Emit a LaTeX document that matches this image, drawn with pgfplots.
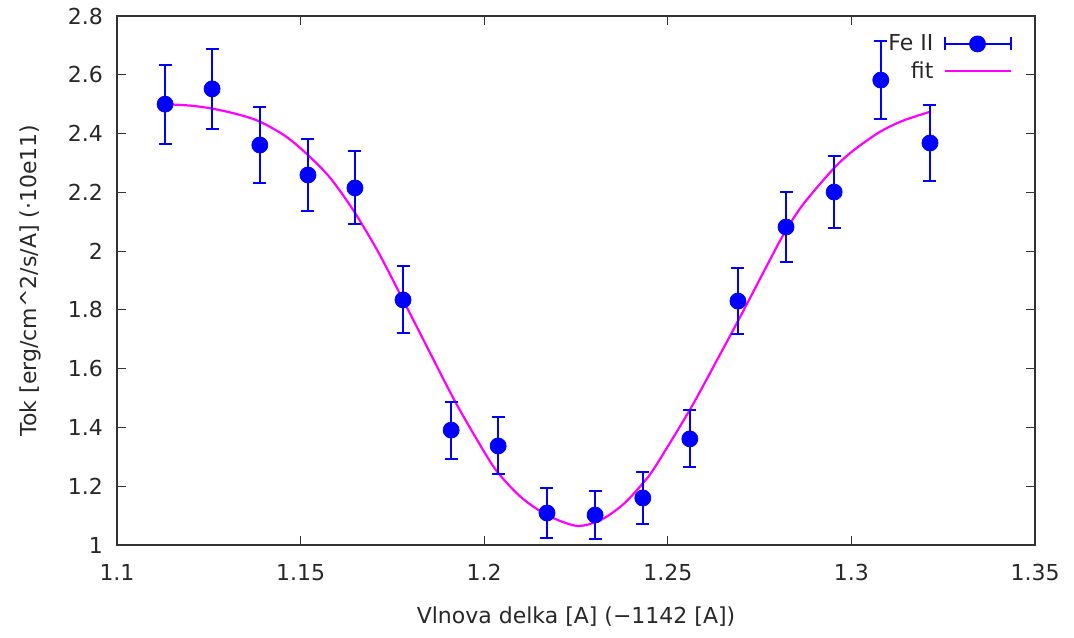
\documentclass[border=0pt]{standalone}
\usepackage{fontspec}
\setmainfont{DejaVu Sans}
\usepackage{pgfplots}
\pgfplotsset{compat=1.18}

\definecolor{gblue}{RGB}{0,0,255}
\definecolor{gmag}{RGB}{255,0,255}
\definecolor{gtxt}{RGB}{40,40,40}

\begin{document}
\begin{tikzpicture}
\begin{axis}[
    scale only axis,
    width=459pt, height=264.5pt,
    xmin=1.1, xmax=1.35,
    ymin=1, ymax=2.8,
    xtick={1.1,1.15,...,1.36},
    ytick={1,1.2,...,2.81},
    xticklabels={1.1,1.15,1.2,1.25,1.3,1.35},
    yticklabels={1,1.2,1.4,1.6,1.8,2,2.2,2.4,2.6,2.8},
    tick align=inside,
    major tick length=4.5pt,
    axis line style={line width=0.6pt, black!80},
    every tick/.style={line width=0.6pt, black!80},
    font=\fontsize{11}{13}\selectfont,
    tick label style={text=gtxt},
    xticklabel style={yshift=-6pt},
    yticklabel style={xshift=-3.5pt},
    label style={text=gtxt},
    /pgf/number format/assume math mode=true,
    xlabel={Vlnova delka [A] (−1142 [A])},
    ylabel={Tok [erg/cm\^{}2/s/A] (·10e11)},
    xlabel style={yshift=-6pt},
    ylabel style={yshift=6.5pt},
    legend style={draw=none, fill=none, at={(1,1)}, anchor=north east,
        xshift=-8.5pt, yshift=-5pt, legend plot pos=right,
        row sep=0pt, column sep=3pt, text=gtxt},
    legend cell align=right,
]
\addplot[gmag, line width=1.1pt, smooth, forget plot] coordinates {
    (1.1131,2.500) (1.1200,2.495) (1.1259,2.485) (1.1330,2.465)
    (1.1390,2.440) (1.1460,2.390) (1.1520,2.327) (1.1580,2.250)
    (1.1643,2.140) (1.1710,2.000) (1.1779,1.834) (1.1850,1.660)
    (1.1920,1.490) (1.1989,1.340) (1.2035,1.250) (1.2100,1.163)
    (1.2171,1.102) (1.2253,1.065) (1.2320,1.087) (1.2380,1.140)
    (1.2432,1.210) (1.2465,1.265) (1.2560,1.460) (1.2630,1.620)
    (1.2697,1.776) (1.2778,1.970) (1.2819,2.065) (1.2869,2.160)
    (1.2951,2.280) (1.3005,2.342) (1.3078,2.406) (1.3141,2.444)
    (1.3214,2.474)
};
\addplot[gblue, only marks, mark=*, mark size=4pt, forget plot,
    error bars/.cd, y dir=both, y explicit, error mark=|,
    error bar style={line width=1pt, gblue},
    error mark options={mark size=3.25pt, line width=1pt, gblue}]
    table[x=x, y=y, y error=e] {
    x      y      e
    1.1131 2.500 0.134
    1.1259 2.552 0.136
    1.1389 2.361 0.129
    1.1520 2.259 0.124
    1.1648 2.215 0.124
    1.1779 1.834 0.114
    1.1910 1.391 0.097
    1.2038 1.337 0.097
    1.2171 1.109 0.085
    1.2302 1.102 0.083
    1.2432 1.160 0.090
    1.2560 1.361 0.097
    1.2691 1.830 0.112
    1.2822 2.082 0.119
    1.2953 2.201 0.124
    1.3080 2.582 0.133
    1.3214 2.368 0.129
};
\addlegendimage{legend image code/.code={
    \draw[gblue, line width=1pt] (0pt,0pt) -- (33pt,0pt);
    \draw[gblue, line width=1pt] (0pt,-3.25pt) -- (0pt,3.25pt);
    \draw[gblue, line width=1pt] (33pt,-3.25pt) -- (33pt,3.25pt);
    \fill[gblue] (16.5pt,0pt) circle (4pt);}}
\addlegendentry{Fe II}
\addlegendimage{legend image code/.code={
    \draw[gmag, line width=1.1pt] (0pt,0pt) -- (33pt,0pt);}}
\addlegendentry{fit}
\coordinate (bl) at (rel axis cs:0,0);
\coordinate (tr) at (rel axis cs:1,1);
\end{axis}
\path ([shift={(-58.5pt,-46pt)}]bl) rectangle ([shift={(19.5pt,8pt)}]tr);
\end{tikzpicture}
\end{document}
